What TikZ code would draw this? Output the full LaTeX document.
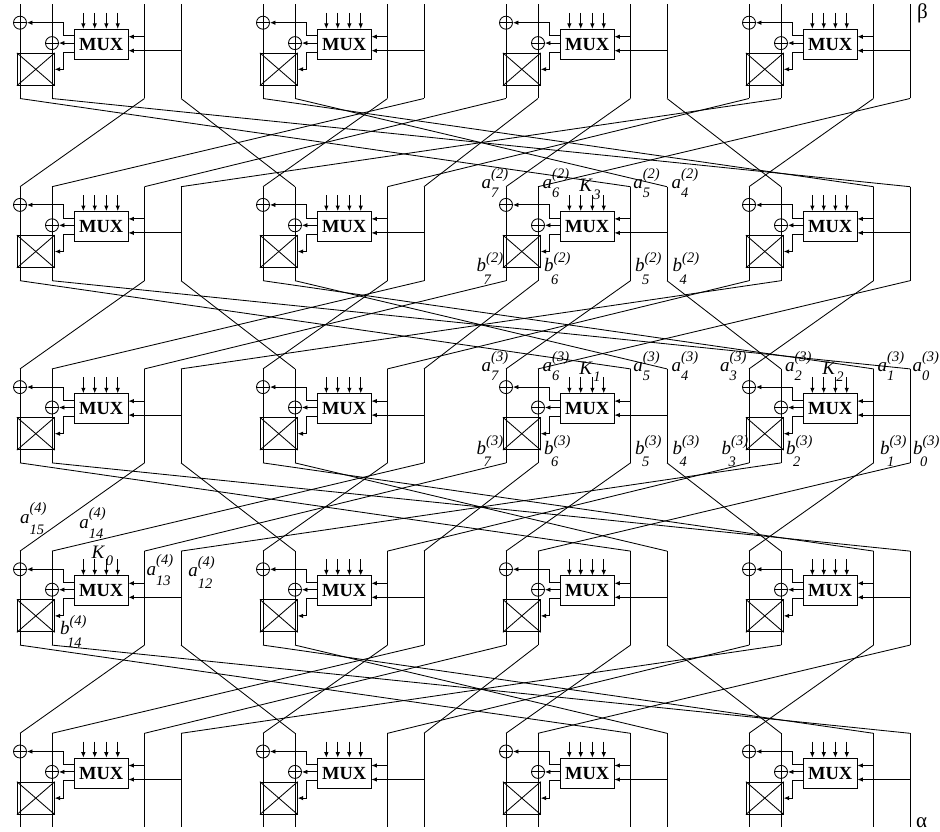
\documentclass[tikz,border=0pt]{standalone}
\usepackage{fontspec}
\setmainfont{Liberation Serif}
\usetikzlibrary{arrows.meta,positioning}
\newcommand{\smallfnt}{\fontsize{14.5}{14.5}\selectfont}
\newcommand{\alab}[3][8.3pt]{a\rlap{\raisebox{10.5pt}{\smallfnt(#2)}}\raisebox{-#1}{\smallfnt#3}}
\newcommand{\blab}[2]{b\rlap{\raisebox{9pt}{\smallfnt(#1)}}\kern-2.5pt\raisebox{-12.7pt}{\smallfnt#2}}
\newcommand{\klab}[1]{K\kern1.5pt\raisebox{-7pt}{\smallfnt#1}}
\tikzset{
  wire/.style={line width=.85pt, color=black},
  sigarr/.style={wire, -{Latex[length=5.5pt,width=4.5pt]}},
  muxbox/.style={draw, line width=.85pt, minimum width=53.7pt, minimum height=30pt, inner sep=0pt,
    font=\fontsize{18.5}{18.5}\selectfont\bfseries},
  xorc/.style={draw, line width=.85pt, circle, minimum size=13pt, inner sep=0pt},
  swapbox/.style={draw, line width=.85pt, minimum width=37pt, minimum height=32pt, inner sep=0pt},
  wirelab/.style={anchor=base west, inner sep=0pt, outer sep=0pt, font=\fontsize{19}{19}\selectfont\itshape},
  greek/.style={anchor=base west, inner sep=0pt, outer sep=0pt, font=\fontsize{21}{21}\selectfont},
}

\begin{document}
\begin{tikzpicture}[x=1pt,y=-1pt]
  \useasboundingbox (0,0) rectangle (940,832);
  % five rows of four cells
  \foreach \rw in {0,...,4} {
    \foreach \cl in {0,...,3} {
      \pgfmathsetmacro{\cx}{243*\cl}
      \pgfmathsetmacro{\cy}{4.5+182.2*\rw}
      \begin{scope}[shift={(\cx,\cy)}]
        \foreach \idx/\wx in {0/20,1/52,2/144.5,3/181} {
          \pgfmathtruncatemacro{\pos}{4*\cl+\idx}
          \coordinate (t\rw-\pos) at (\wx,0);
          \coordinate (b\rw-\pos) at (\wx,94);
          \draw[wire] (t\rw-\pos) -- (b\rw-\pos);
        }
        \node[muxbox] (mux\rw-\cl) at (101.15,39.8) {MUX};
        \node[xorc] (xu\rw-\cl) at (20,18.2) {};
        \node[xorc] (xl\rw-\cl) at (52,38.6) {};
        \node[swapbox] (sw\rw-\cl) at (35.8,64.8) {};
        \draw[wire] (xu\rw-\cl.west) -- (xu\rw-\cl.east);
        \draw[wire] (xl\rw-\cl.west) -- (xl\rw-\cl.east);
        \draw[wire] (sw\rw-\cl.north west) -- (sw\rw-\cl.south east);
        \draw[wire] (sw\rw-\cl.south west) -- (sw\rw-\cl.north east);
        % outputs of the mux
        \draw[sigarr] ([yshift=8.4pt]mux\rw-\cl.west) -- ++(-10,0) |- (xu\rw-\cl.east);
        \draw[sigarr] (mux\rw-\cl.west |- xl\rw-\cl) -- (xl\rw-\cl.east);
        \draw[sigarr] ([yshift=-7.8pt]mux\rw-\cl.west) -- ++(-10,0) |- (sw\rw-\cl.east);
        % key bits
        \foreach \kx in {-17.8,-6.4,5.2,16.6}
          \draw[sigarr] ([xshift=\kx pt,yshift=16pt]mux\rw-\cl.north) -- ([xshift=\kx pt]mux\rw-\cl.north);
        % inputs of the mux
        \coordinate (ina\rw-\cl) at (144.5,32.2);
        \coordinate (inb\rw-\cl) at (181,46.2);
        \draw[sigarr] (ina\rw-\cl) -- (ina\rw-\cl -| mux\rw-\cl.east);
        \draw[sigarr] (inb\rw-\cl) -- (inb\rw-\cl -| mux\rw-\cl.east);
      \end{scope}
    }
  }
  % wires between the rows
  \foreach \rw in {0,...,3} {
    \pgfmathtruncatemacro{\nx}{\rw+1}
    \foreach \src/\dst in {0/10,1/15,2/0,3/5,4/14,5/11,6/4,7/1,8/2,9/7,10/8,11/13,12/6,13/3,14/12,15/9}
      \draw[wire] (b\rw-\src) -- (t\nx-\dst);
  }
  % labels
  \foreach \sb/\lx in {7/481.7,6/542.7,5/633.3,4/671.7}
    \node[wirelab] (a2-\sb) at (\lx,189) {\alab{2}{\sb}};
  \foreach \sb/\lx in {7/476.7,6/544,5/635,4/672.7}
    \node[wirelab] (b2-\sb) at (\lx,271.7) {\blab{2}{\sb}};
  \foreach \sb/\lx in {7/481.7,6/542.7,5/633.3,4/671.7,3/720,2/785,1/877.7,0/912.5}
    \node[wirelab] (a3-\sb) at (\lx,371.7) {\alab{3}{\sb}};
  \foreach \sb/\lx in {7/476.7,6/544,5/635,4/672.7,3/721.7,2/786,1/880,0/913}
    \node[wirelab] (b3-\sb) at (\lx,454) {\blab{3}{\sb}};
  \node[wirelab] (a4-15) at (20,523.3) {\alab[11pt]{4}{15}};
  \node[wirelab] (a4-14) at (79.3,528.3) {\alab[10pt]{4}{14}};
  \node[wirelab] (a4-13) at (146.7,575) {\alab[10.7pt]{4}{13}};
  \node[wirelab] (a4-12) at (188.3,576.7) {\alab[11.7pt]{4}{12}};
  \node[wirelab] (b4-14) at (60,634.3) {\blab{4}{14}};
  \node[wirelab] (key3) at (579.3,192) {\klab{3}};
  \node[wirelab] (key1) at (579.3,374.3) {\klab{1}};
  \node[wirelab] (key2) at (822.3,374.3) {\klab{2}};
  \node[wirelab] (key0) at (91.7,558.3) {\klab{0}};
  \node[greek] (beta) at (917,19) {β};
  \node[greek] (alpha) at (916,827.3) {α};
\end{tikzpicture}
\end{document}
